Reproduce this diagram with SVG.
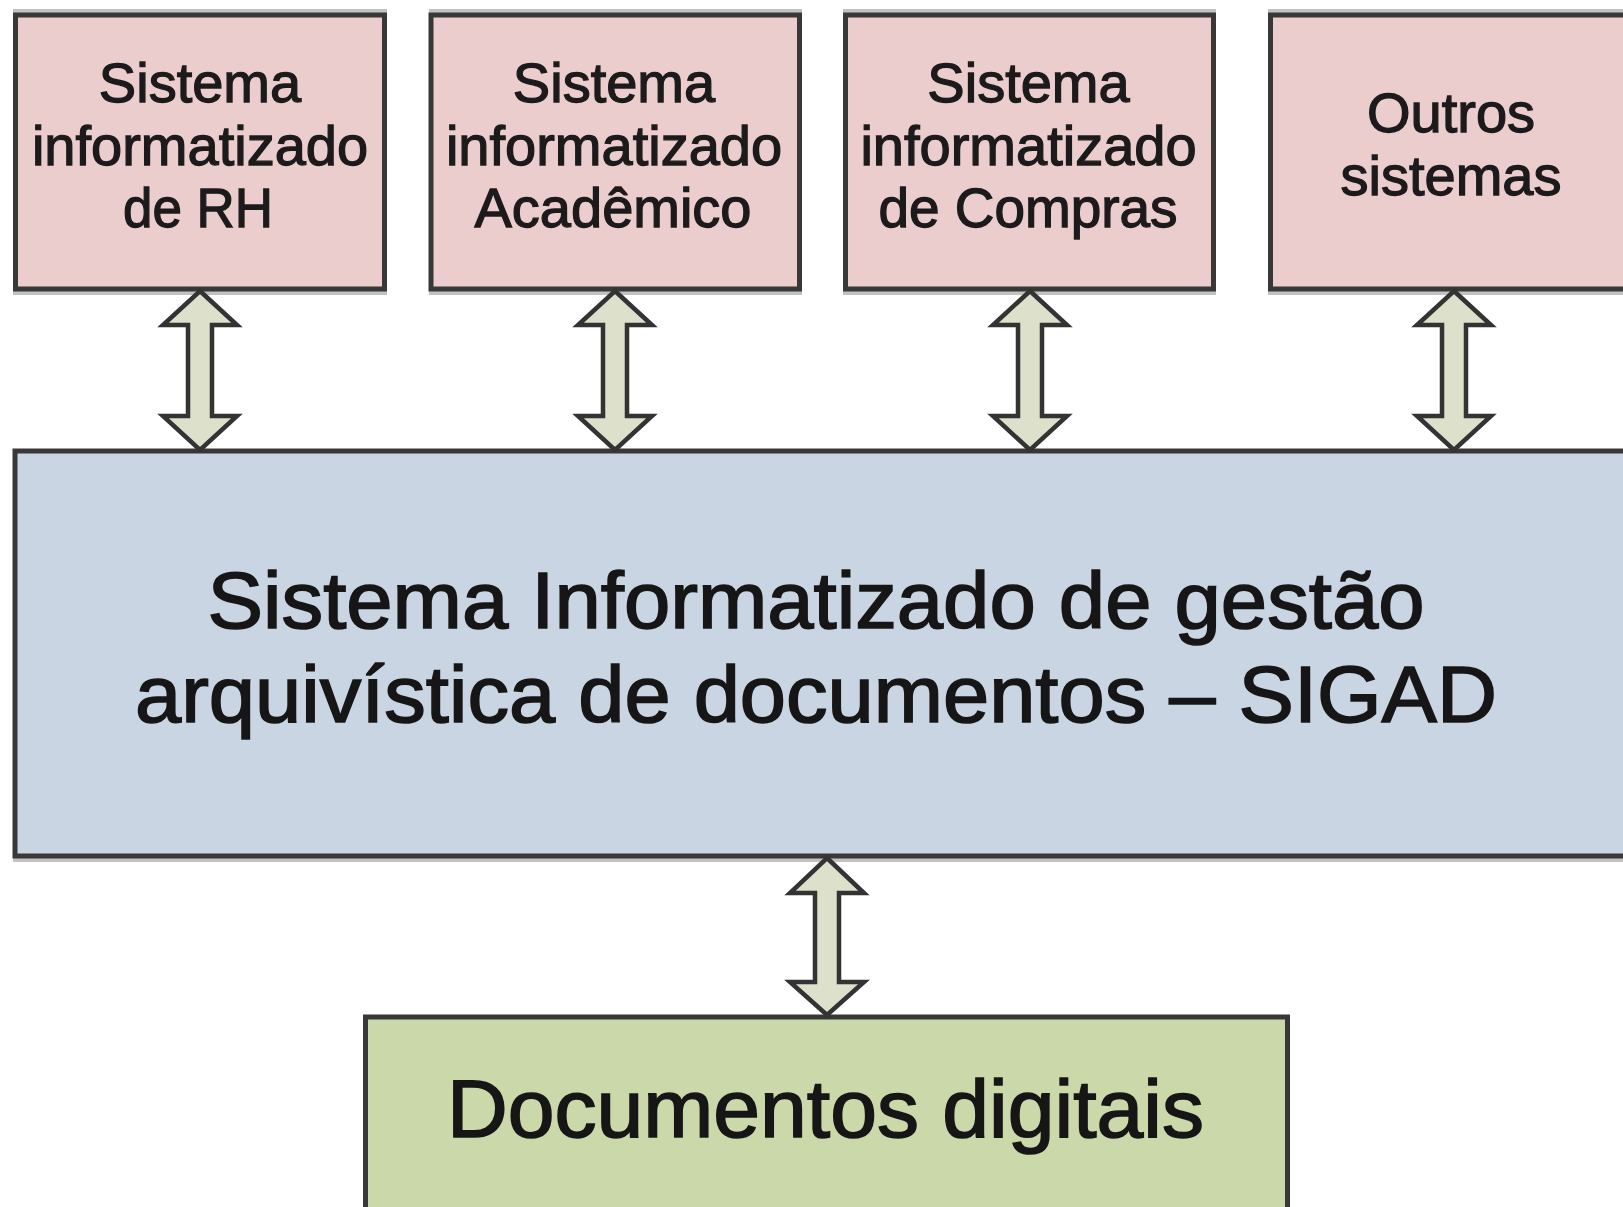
<svg xmlns="http://www.w3.org/2000/svg" width="1623" height="1207" viewBox="0 0 1623 1207">
  <defs>
    <style>
      .box { stroke: #3a3737; stroke-width: 5; }
      .sys { fill: #eacdcc; }
      .sigad { fill: #c9d5e3; }
      .docs { fill: #cbd9aa; }
      .shadow { fill: #c2c2c2; }
      .small { font-family: "Liberation Sans", Arial, sans-serif; font-size: 56px; fill: #1c1a1a; stroke: #1c1a1a; stroke-width: 1.3px; text-anchor: middle; }
      .big { font-family: "Liberation Sans", Arial, sans-serif; font-size: 80px; fill: #161616; stroke: #161616; stroke-width: 1.6px; text-anchor: middle; }
      .arrow { fill: #dde0cb; stroke: #333333; stroke-width: 4.5; stroke-linejoin: miter; }
    </style>
  </defs>
  <rect width="1623" height="1207" fill="#ffffff"/>

  <g id="node-rh">
    <rect class="shadow" x="13" y="9" width="374" height="4"/>
    <rect class="shadow" x="13" y="291" width="374" height="4"/>
    <rect class="box sys" x="15.5" y="15" width="369" height="274"/>
    <text class="small" x="200" y="102">Sistema</text>
    <text class="small" x="200" y="164.5">informatizado</text>
    <text class="small" x="198" y="227" textLength="150" lengthAdjust="spacingAndGlyphs">de RH</text>
  </g>

  <g id="node-academico">
    <rect class="shadow" x="429" y="9" width="373" height="4"/>
    <rect class="shadow" x="429" y="291" width="373" height="4"/>
    <rect class="box sys" x="431" y="15" width="368.5" height="274"/>
    <text class="small" x="614" y="102">Sistema</text>
    <text class="small" x="614" y="164.5">informatizado</text>
    <text class="small" x="613" y="227">Acadêmico</text>
  </g>

  <g id="node-compras">
    <rect class="shadow" x="843" y="9" width="373" height="4"/>
    <rect class="shadow" x="843" y="291" width="373" height="4"/>
    <rect class="box sys" x="845.5" y="15" width="368" height="274"/>
    <text class="small" x="1028.5" y="102">Sistema</text>
    <text class="small" x="1028.5" y="164.5">informatizado</text>
    <text class="small" x="1028" y="227" textLength="299" lengthAdjust="spacingAndGlyphs">de Compras</text>
  </g>

  <g id="node-outros">
    <rect class="shadow" x="1268" y="9" width="380" height="4"/>
    <rect class="shadow" x="1268" y="291" width="380" height="4"/>
    <rect class="box sys" x="1270.5" y="15" width="368" height="274"/>
    <text class="small" x="1451" y="132">Outros</text>
    <text class="small" x="1451" y="195">sistemas</text>
  </g>

  <g id="node-sigad">
    <rect class="shadow" x="13" y="858" width="1630" height="4"/>
    <rect class="box sigad" x="15" y="451" width="1630" height="405"/>
    <text class="big" x="816" y="628" textLength="1217" lengthAdjust="spacingAndGlyphs">Sistema Informatizado de gestão</text>
    <text class="big" x="816" y="722" textLength="1362" lengthAdjust="spacingAndGlyphs">arquivística de documentos – SIGAD</text>
  </g>

  <g id="node-documentos">
    <rect class="box docs" x="365.5" y="1017" width="922" height="220"/>
    <text class="big" x="825.5" y="1137" style="font-size:82px" textLength="757" lengthAdjust="spacingAndGlyphs">Documentos digitais</text>
  </g>

  <g id="connectors">
    <path class="arrow" d="M200 291 L237 325 L212 325 L212 416 L237 416 L200 450 L163 416 L188 416 L188 325 L163 325 Z"/>
    <path class="arrow" d="M615 291 L652 325 L627 325 L627 416 L652 416 L615 450 L578 416 L603 416 L603 325 L578 325 Z"/>
    <path class="arrow" d="M1030 291 L1067 325 L1042 325 L1042 416 L1067 416 L1030 450 L993 416 L1018 416 L1018 325 L993 325 Z"/>
    <path class="arrow" d="M1454 291 L1491 325 L1466 325 L1466 416 L1491 416 L1454 450 L1417 416 L1442 416 L1442 325 L1417 325 Z"/>
    <path class="arrow" d="M827 858 L864 893 L839 893 L839 982 L864 982 L827 1015 L790 982 L815 982 L815 893 L790 893 Z"/>
  </g>
</svg>
